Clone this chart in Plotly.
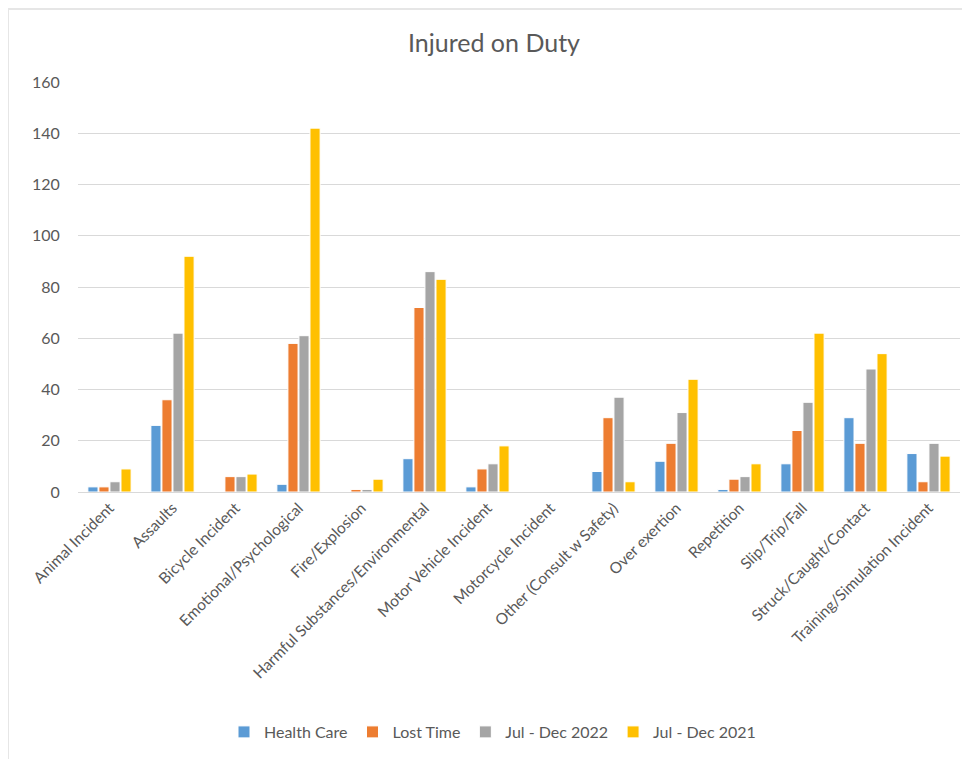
import plotly.graph_objects as go

categories = ["Animal Incident", "Assaults", "Bicycle Incident", "Emotional/Psychological",
              "Fire/Explosion", "Harmful Substances/Environmental", "Motor Vehicle Incident",
              "Motorcycle Incident", "Other (Consult w Safety)", "Over exertion", "Repetition",
              "Slip/Trip/Fall", "Struck/Caught/Contact", "Training/Simulation Incident"]

health_care = [2, 26, 0, 3, 0, 13, 2, 0, 8, 12, 1, 11, 29, 15]
lost_time = [2, 36, 6, 58, 1, 72, 9, 0, 29, 19, 5, 24, 19, 4]
jul_dec_2022 = [4, 62, 6, 61, 1, 86, 11, 0, 37, 31, 6, 35, 48, 19]
jul_dec_2021 = [9, 92, 7, 142, 5, 83, 18, 0, 4, 44, 11, 62, 54, 14]

series_names = ["Health Care", "Lost Time", "Jul - Dec 2022", "Jul - Dec 2021"]
series_values = [health_care, lost_time, jul_dec_2022, jul_dec_2021]
colors = ["#5B9BD5", "#ED7D31", "#A5A5A5", "#FFC000"]

y_ticks = [0, 20, 40, 60, 80, 100, 120, 140, 160]

FONT = "Lato, 'Open Sans', sans-serif"

fig = go.Figure()
for name, vals, col in zip(series_names, series_values, colors):
    fig.add_trace(go.Bar(x=categories, y=vals, name=name,
                         marker=dict(color=col, line=dict(color="white", width=1))))

# page has an 8px body margin, so figure coords = screenshot coords - 8
OFF = 8
W, H = 962, 751
L, R, T, B = 70, 10, 74, 267
pw = W - L - R
ph = H - T - B

def px_x(px):
    return (px - OFF - L) / pw

def px_y(py):
    return (H - B - (py - OFF)) / ph

fig.update_layout(
    width=W, height=H,
    margin=dict(l=L, r=R, t=T, b=B),
    paper_bgcolor="white", plot_bgcolor="white",
    barmode="group", bargap=0.3, bargroupgap=0.08,
    font=dict(family=FONT, color="#595959", size=15),
    title=dict(text="Injured on Duty", x=px_x(494), xref="paper", xanchor="center",
               y=1 - (43 - OFF) / H, yanchor="middle",
               font=dict(size=25, color="#595959", family=FONT)),
    legend=dict(orientation="h", x=px_x(224), xanchor="left", xref="paper",
                y=px_y(732), yanchor="middle", yref="paper",
                font=dict(size=16, color="#595959", family=FONT),
                itemwidth=30, traceorder="normal", itemclick=False),
    showlegend=True,
    xaxis=dict(tickangle=-45, showgrid=False, showline=True, linecolor="#D9D9D9",
               linewidth=1, ticks="", tickfont=dict(size=15.5, color="#595959")),
    yaxis=dict(range=[0, 160], tickvals=y_ticks, showgrid=True, gridcolor="#D9D9D9",
               gridwidth=1, zeroline=False, showline=False, ticks="outside",
               tickcolor="white", ticklen=14, tickfont=dict(size=16, color="#595959")),
    shapes=[
        dict(type="line", xref="paper", yref="paper", x0=px_x(8), x1=px_x(8),
             y0=px_y(9), y1=px_y(770), line=dict(color="#E6E6E6", width=2), layer="below"),
        dict(type="line", xref="paper", yref="paper", x0=px_x(8), x1=px_x(980),
             y0=px_y(9), y1=px_y(9), line=dict(color="#E6E6E6", width=2), layer="below"),
    ],
)

fig.write_html("out.html")
